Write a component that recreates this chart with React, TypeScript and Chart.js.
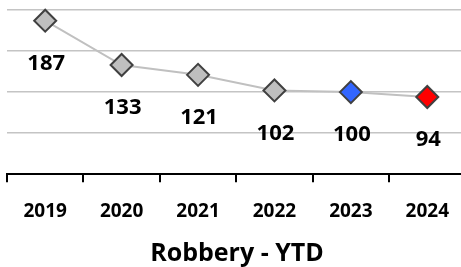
import React, { useEffect, useRef } from "react";
import { Chart, registerables } from "chart.js";

Chart.register(...registerables);

const years = ["2019", "2020", "2021", "2022", "2023", "2024"];
const robberies = [187, 133, 121, 102, 100, 94];
const pointFills = ["#bfbfbf", "#bfbfbf", "#bfbfbf", "#bfbfbf", "#3366ff", "#ff0000"];
const yMin = 0;
const yMax = 200;
const yStep = 50;
const chartTitle = "Robbery - YTD";

const FONT = "'Open Sans', 'Liberation Sans', sans-serif";

const valueLabels = {
  id: "valueLabels",
  afterDatasetsDraw(chart: any) {
    const meta = chart.getDatasetMeta(0);
    const ctx = chart.ctx;
    ctx.save();
    ctx.font = `bold 22px ${FONT}`;
    ctx.fillStyle = "#000";
    ctx.textAlign = "center";
    ctx.textBaseline = "middle";
    meta.data.forEach((el: any, i: number) => {
      ctx.fillText(String(robberies[i]), el.x + 1, el.y + 43);
    });
    ctx.restore();
  },
};

export default function App() {
  const ref = useRef<HTMLCanvasElement | null>(null);
  useEffect(() => {
    if (!ref.current) return;
    const chart = new Chart(ref.current, {
      type: "line",
      data: {
        labels: years,
        datasets: [
          {
            data: robberies,
            borderColor: "#c0c0c0",
            borderWidth: 2,
            pointStyle: "rectRot",
            pointRadius: 11,
            pointHoverRadius: 11,
            pointBackgroundColor: pointFills,
            pointBorderColor: "#404040",
            pointBorderWidth: 2,
            tension: 0,
            clip: false as any,
          },
        ],
      },
      options: {
        animation: false,
        responsive: false,
        devicePixelRatio: 1,
        layout: { autoPadding: false, padding: { left: 7, top: 10, right: 0, bottom: 0 } },
        scales: {
          x: {
            type: "category",
            offset: true,
            grid: {
              offset: true,
              drawOnChartArea: false,
              drawTicks: true,
              tickLength: 8,
              color: "#000",
              lineWidth: 2,
            },
            border: { display: true, color: "#000", width: 2 },
            ticks: {
              color: "#000",
              padding: 18,
              font: { family: FONT, size: 19, weight: "bold", lineHeight: 1.2 },
            },
          },
          y: {
            min: yMin,
            max: yMax,
            ticks: { display: false, stepSize: yStep },
            grid: {
              drawTicks: false,
              lineWidth: 1.5,
              color: (c: any) => (c.tick && c.tick.value === 0 ? "rgba(0,0,0,0)" : "#c4c4c4"),
            },
            border: { display: false },
          },
        },
        plugins: {
          legend: { display: false },
          tooltip: { enabled: false },
          title: {
            display: true,
            position: "bottom",
            text: chartTitle,
            color: "#000",
            font: { family: FONT, size: 25, weight: "bold", lineHeight: 1.2 },
            padding: { top: -2, bottom: -2 },
          },
        },
      },
      plugins: [valueLabels],
    });
    return () => chart.destroy();
  }, []);

  return (
    <div style={{ position: "absolute", left: 0, top: 0, width: 461, height: 267, overflow: "hidden", background: "#fff" }}>
      <canvas ref={ref} width={467} height={267} style={{ width: 467, height: 267, display: "block" }} />
    </div>
  );
}
